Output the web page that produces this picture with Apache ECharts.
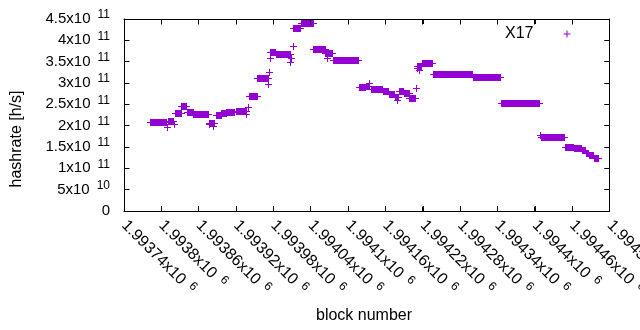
<!DOCTYPE html>
<html><head><meta charset="utf-8">
<script src="https://cdn.jsdelivr.net/npm/echarts@6/dist/echarts.min.js"></script>
<style>html,body{margin:0;padding:0;background:#fff}#c{width:640px;height:330px}</style>
</head><body><div id="c"></div>
<script>
// ---- data ----
const seriesName = 'X17';
const xTitle = 'block number';
const yTitle = 'hashrate [h/s]';
// runs of consecutive blocks sharing the same hashrate estimate (single points have start == end)
const runStart = [1993782,1993810,1993812,1993821,1993822,1993833,1993842,1993852,1993877,1993878,1993883,1993888,1993897,1993905,1993920,1993937,1993940,1993942,1993955,1993972,1993974,1993975,1993976,1993985,1994008,1994009,1994012,1994013,1994025,1994045,1994064,1994067,1994076,1994118,1994129,1994134,1994137,1994157,1994166,1994176,1994179,1994182,1994190,1994199,1994210,1994211,1994212,1994215,1994219,1994237,1994301,1994346,1994409,1994410,1994449,1994463,1994476,1994483,1994488,1994496];
const runEnd   = [1993809,1993810,1993820,1993821,1993832,1993841,1993851,1993875,1993885,1993878,1993883,1993896,1993904,1993918,1993937,1993937,1993940,1993954,1993972,1993972,1993974,1993975,1993984,1994007,1994008,1994009,1994012,1994024,1994044,1994063,1994075,1994067,1994117,1994128,1994135,1994134,1994156,1994165,1994175,1994181,1994179,1994189,1994198,1994209,1994210,1994211,1994218,1994215,1994236,1994300,1994345,1994408,1994409,1994448,1994462,1994475,1994482,1994487,1994495,1994502];
const runValue = [2.09e11,1.98e11,2.10e11,2.04e11,2.29e11,2.45e11,2.31e11,2.265e11,2.07e11,2.04e11,1.99e11,2.245e11,2.30e11,2.315e11,2.35e11,2.28e11,2.44e11,2.70e11,3.11e11,2.98e11,3.25e11,3.58e11,3.73e11,3.67e11,3.50e11,3.58e11,3.87e11,4.28e11,4.40e11,3.79e11,3.70e11,3.59e11,3.55e11,2.895e11,2.92e11,3.01e11,2.855e11,2.81e11,2.74e11,2.68e11,2.60e11,2.82e11,2.76e11,2.65e11,2.875e11,3.345e11,3.41e11,3.30e11,3.48e11,3.20e11,3.15e11,2.524e11,1.78e11,1.734e11,1.49e11,1.47e11,1.42e11,1.35e11,1.305e11,1.24e11];
// axes
const xMin = 1993740, xMax = 1994520, xStep = 60;
const yMin = 0, yMax = 4.5e11, yStep = 5e10;

// ---- chart ----
const FONT = 'Liberation Sans';
const COLOR = '#9400d3';
const TICK_LEN = 5;
const chart = echarts.init(document.getElementById('c'), null, {renderer: 'canvas'});
const data = runStart.map((s, i) => [s, runEnd[i], runValue[i]]);

function renderItem(params, api) {
  const a = api.coord([api.value(0), api.value(2)]);
  const b = api.coord([api.value(1), api.value(2)]);
  const x0 = Math.floor(a[0]), x1 = Math.floor(b[0]), yc = Math.round(a[1]);
  return {type: 'group', children: [
    {type: 'rect', shape: {x: x0, y: yc - 3, width: x1 - x0 + 1, height: 7}, style: {fill: COLOR}},
    {type: 'line', shape: {x1: x0 - 3, y1: yc + 0.5, x2: x1 + 4, y2: yc + 0.5}, style: {stroke: COLOR, lineWidth: 1}}
  ]};
}
// plot border with mirrored inward ticks (gnuplot style), positioned through the axes' scales
function renderFrame(params, api) {
  const p0 = api.coord([xMin, yMin]), p1 = api.coord([xMax, yMax]);
  const L = Math.floor(p0[0]) + 0.5, R = Math.floor(p1[0]) + 0.5;
  const B = Math.floor(p0[1]) + 0.5, T = Math.floor(p1[1]) + 0.5;
  const st = {stroke: '#000', lineWidth: 1};
  const ch = [
    {type: 'polyline', shape: {points: [[L, T], [R, T], [R, B], [L, B], [L, T]]}, style: Object.assign({fill: null}, st)}
  ];
  for (let v = xMin; v <= xMax; v += xStep) {
    const x = Math.floor(api.coord([v, yMin])[0]) + 0.5;
    ch.push({type: 'line', shape: {x1: x, y1: B, x2: x, y2: B - TICK_LEN}, style: st});
    ch.push({type: 'line', shape: {x1: x, y1: T, x2: x, y2: T + TICK_LEN}, style: st});
  }
  for (let v = yMin; v <= yMax + 1; v += yStep) {
    const y = Math.floor(api.coord([xMin, v])[1]) + 0.5;
    ch.push({type: 'line', shape: {x1: L, y1: y, x2: L + TICK_LEN, y2: y}, style: st});
    ch.push({type: 'line', shape: {x1: R, y1: y, x2: R - TICK_LEN, y2: y}, style: st});
  }
  return {type: 'group', children: ch};
}
function yLabel(v) {
  if (v === 0) return '{m|0}';
  const e = Math.floor(Math.log10(v) + 1e-9);
  const m = parseFloat((v / Math.pow(10, e)).toFixed(4));
  return '{m|' + m + 'x10}{e|' + e + '}';
}
function xLabel(v) {
  const m = parseFloat((v / 1e6).toFixed(6));
  return '{x|' + m + 'x10}{e|6}';
}
const rich = {
  m: {fontSize: 15, fontFamily: FONT, color: '#000', lineHeight: 20},
  x: {fontSize: 16, fontFamily: FONT, color: '#000', lineHeight: 20},
  e: {fontSize: 12, fontFamily: FONT, color: '#000', verticalAlign: 'top', padding: [0, 0, 0, 7]}
};
const axisCommon = {
  axisLine: {show: true, onZero: false, lineStyle: {color: '#000', width: 1}},
  axisTick: {show: true, inside: true, length: TICK_LEN, lineStyle: {color: '#000', width: 1}},
  splitLine: {show: false}
};
chart.setOption({
  animation: false,
  grid: {left: 124, right: 30.5, top: 19, bottom: 119, containLabel: false, outerBoundsMode: 'none'},
  xAxis: [
    Object.assign({type: 'value', position: 'bottom', min: xMin, max: xMax, interval: xStep,
      axisLabel: {show: true, rotate: -45, margin: 12, interval: 0, showMinLabel: true, showMaxLabel: true,
        fontSize: 16, fontFamily: FONT, color: '#000', formatter: xLabel, rich: rich}}, axisCommon),
    Object.assign({type: 'value', position: 'top', min: xMin, max: xMax, interval: xStep,
      axisLabel: {show: false}}, axisCommon)
  ],
  yAxis: [
    Object.assign({type: 'value', position: 'left', min: yMin, max: yMax, interval: yStep,
      axisLabel: {show: true, margin: 14, fontSize: 15, fontFamily: FONT, color: '#000', formatter: yLabel, rich: rich}}, axisCommon),
    Object.assign({type: 'value', position: 'right', min: yMin, max: yMax, interval: yStep,
      axisLabel: {show: false}}, axisCommon)
  ],
  legend: {
    show: true, right: 69.5, top: 26, padding: 0, align: 'right', itemWidth: 7, itemHeight: 7,
    data: [{name: seriesName, icon: 'path://M0,3L7,3L7,4L0,4Z M3,0L4,0L4,7L3,7Z'}],
    formatter: '{t|{name}}{g|}',
    textStyle: {fontSize: 16, fontFamily: FONT, color: '#000',
      rich: {t: {fontSize: 16, fontFamily: FONT, color: '#000'}, g: {width: 25}}}
  },
  graphic: [
    {type: 'text', x: 364, y: 316, style: {text: xTitle, font: '16px "Liberation Sans"', fill: '#000', align: 'center', verticalAlign: 'middle'}},
    {type: 'text', x: 17, y: 139, rotation: Math.PI / 2, style: {text: yTitle, font: '16px "Liberation Sans"', fill: '#000', align: 'center', verticalAlign: 'middle'}}
  ],
  series: [
    {
      name: seriesName, type: 'custom', xAxisIndex: 0, yAxisIndex: 0,
      itemStyle: {color: COLOR},
      renderItem: renderItem,
      encode: {x: [0, 1], y: 2},
      data: data
    },
    {
      name: 'frame', type: 'custom', xAxisIndex: 0, yAxisIndex: 0, silent: true, clip: false, z: 5,
      renderItem: renderFrame,
      data: [[xMin, yMin]]
    }
  ]
});
</script></body></html>
